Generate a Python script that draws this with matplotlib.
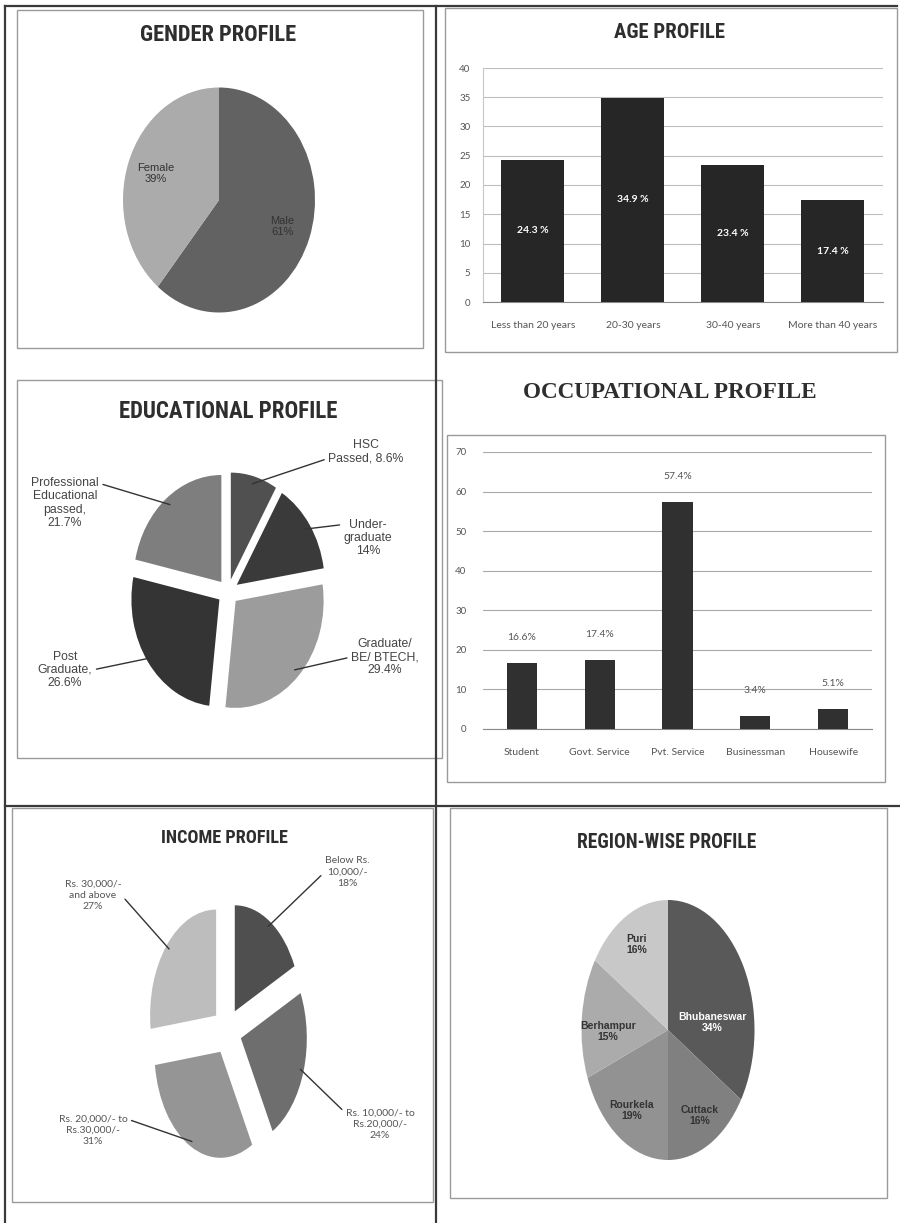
import numpy as np
import matplotlib
matplotlib.use('Agg')
import matplotlib.pyplot as plt
from matplotlib import font_manager
from matplotlib.patches import Rectangle
from matplotlib.lines import Line2D

W, H = 900, 1223

gender_names = ['Male', 'Female']
gender_values = [61, 39]

age_names = ['Less than 20 years', '20-30 years', '30-40 years', 'More than 40 years']
age_values = [24.3, 34.9, 23.4, 17.4]

edu_names = ['HSC\nPassed', 'Under-\ngraduate', 'Graduate/\nBE/ BTECH', 'Post\nGraduate',
             'Professional\nEducational\npassed']
edu_seps = [', ', '\n', ',\n', ',\n', ',\n']
edu_values = [8.6, 14, 29.4, 26.6, 21.7]

occ_names = ['Student', 'Govt. Service', 'Pvt. Service', 'Businessman', 'Housewife']
occ_values = [16.6, 17.4, 57.4, 3.4, 5.1]

income_names = ['Below Rs.\n10,000/-', 'Rs. 10,000/- to\nRs.20,000/-',
                'Rs. 20,000/- to\nRs.30,000/-', 'Rs. 30,000/-\nand above']
income_values = [18, 24, 31, 27]

region_names = ['Bhubaneswar', 'Cuttack', 'Rourkela', 'Berhampur', 'Puri']
region_values = [34, 16, 19, 15, 16]

# look for a condensed bold face for the Excel-style titles
cond = {}
for f in font_manager.fontManager.ttflist:
    bold = f.weight in (600, 700, 800, 'bold', 'semibold', 'demibold')
    if 'condensed' in str(f.stretch) and bold:
        cond.setdefault(f.name, str(f.stretch))
TITLE_FAMILY, TITLE_STRETCH = 'Liberation Sans', 'normal'
for nm in ['Liberation Sans Narrow', 'Roboto Condensed', 'Open Sans Condensed', 'DejaVu Sans',
           'Roboto', 'Open Sans', 'Noto Sans']:
    if nm in cond:
        TITLE_FAMILY, TITLE_STRETCH = nm, cond[nm]
        break

CAL = 'Lato'
ARIAL = 'Liberation Sans'
SERIF = 'Liberation Serif'

fig = plt.figure(figsize=(W / 100, H / 100), dpi=100)
renderer = fig.canvas.get_renderer()


def rect(x0, y0, x1, y1):
    return [x0 / W, 1 - y1 / H, (x1 - x0) / W, (y1 - y0) / H]


# overlay in pixel coordinates for frames and titles
over = fig.add_axes([0, 0, 1, 1])
over.set_xlim(0, W)
over.set_ylim(H, 0)
over.axis('off')
over.set_zorder(-1)

for x0, y0, x1, y1 in [(5, 6, 897, 6), (5, 6, 5, 1223), (436, 6, 436, 1223), (5, 806, 900, 806)]:
    over.add_line(Line2D([x0, x1], [y0, y1], color='#3a3a3a', lw=1.6))
for x0, y0, x1, y1 in [(17, 10, 423, 348), (445, 8, 897, 352), (17, 380, 442, 758),
                       (447, 435, 885, 782), (12, 808, 433, 1202), (450, 808, 887, 1198)]:
    over.add_patch(Rectangle((x0, y0), x1 - x0, y1 - y0, fill=False, ec='#9a9a9a', lw=1))


def title(x, y, s, width, family=None, stretch=None):
    t = over.text(x, y, s, ha='center', va='center', fontweight='bold', fontsize=14,
                  family=family or TITLE_FAMILY, fontstretch=stretch or TITLE_STRETCH,
                  color='#2e2e2e')
    w = t.get_window_extent(renderer).width
    t.set_fontsize(14 * width / w)
    return t


title(218, 35, 'GENDER PROFILE', 157)
title(670, 33, 'AGE PROFILE', 111)
title(228, 412, 'EDUCATIONAL PROFILE', 220)
title(224, 838, 'INCOME PROFILE', 128)
title(667, 842, 'REGION-WISE PROFILE', 180)
title(670, 393, 'OCCUPATIONAL PROFILE', 295, family=SERIF, stretch='normal')


def draw_pie(cx, cy, rx, ry, values, colors, explode=None, lim=1.0):
    ax = fig.add_axes(rect(cx - rx * lim, cy - ry * lim, cx + rx * lim, cy + ry * lim))
    wedges, _ = ax.pie(values, colors=colors, explode=explode, startangle=90,
                       counterclock=False, wedgeprops=dict(linewidth=0))
    ax.set_aspect('auto')
    ax.set_xlim(-lim, lim)
    ax.set_ylim(-lim, lim)
    ax.axis('off')
    return ax, wedges


def point_on(w, r):
    t = np.deg2rad((w.theta1 + w.theta2) / 2)
    return w.center[0] + r * np.cos(t), w.center[1] + r * np.sin(t)


# gender
ax, wedges = draw_pie(219, 200, 96, 112.5, gender_values, ['#626262', '#ababab'])
for w, n, v in zip(wedges, gender_names, gender_values):
    x, y = point_on(w, 0.7)
    ax.text(x, y, f'{n}\n{v}%', ha='center', va='center', fontsize=8, family=ARIAL,
            color='#333333', linespacing=1.1)

# age
ax = fig.add_axes(rect(483, 68, 883, 302))
bars = ax.bar(range(len(age_values)), age_values, width=0.63, color='#262626', zorder=3)
ax.bar_label(bars, labels=[f'{v} %' for v in age_values], label_type='center', color='white',
             fontsize=7.5, fontweight='bold', family=CAL)
ax.set_xlim(-0.5, len(age_values) - 0.5)
ax.set_ylim(0, 40)
ax.set_yticks(range(0, 41, 5))
ax.set_xticks(range(len(age_names)))
ax.set_xticklabels(age_names)
ax.yaxis.grid(True, color='#bdbdbd', lw=0.8)
ax.set_axisbelow(True)
for s in ['top', 'right']:
    ax.spines[s].set_visible(False)
ax.spines['left'].set_color('#c8c8c8')
ax.spines['bottom'].set_color('#8a8a8a')
ax.tick_params(axis='y', length=0, pad=9, labelsize=7, labelcolor='#555555')
ax.tick_params(axis='x', length=0, pad=14, labelsize=7.5, labelcolor='#555555')
for t in ax.get_xticklabels() + ax.get_yticklabels():
    t.set_family(CAL)

# education
ax, wedges = draw_pie(228, 592, 88, 107, edu_values,
                      ['#505050', '#3a3a3a', '#9c9c9c', '#343434', '#7e7e7e'],
                      explode=[0.12] * 5, lim=1.35)
edu_text_pos = [(366, 452), (368, 538), (385, 657), (65, 670), (65, 503)]
edu_relpos = [(0, 0.25), (0, 0.85), (0, 0.5), (1, 0.5), (1, 0.88)]
for w, n, s, v, p, rp in zip(wedges, edu_names, edu_seps, edu_values, edu_text_pos, edu_relpos):
    ax.annotate(f'{n}{s}{v:g}%', xy=point_on(w, 0.93), xytext=p, textcoords=over.transData,
                ha='center', va='center', fontsize=8.8, family=ARIAL, color='#444444',
                linespacing=1.15,
                arrowprops=dict(arrowstyle='-', color='#333333', lw=1, relpos=rp,
                                shrinkA=1, shrinkB=0))

# occupation
ax = fig.add_axes(rect(483, 452, 872, 729))
bars = ax.bar(range(len(occ_values)), occ_values, width=0.39, color='#303030', zorder=3)
ax.bar_label(bars, labels=[f'{v}%' for v in occ_values], padding=15, color='#555555',
             fontsize=7.5, family=CAL)
ax.set_xlim(-0.5, len(occ_values) - 0.5)
ax.set_ylim(0, 70)
ax.set_yticks(range(0, 71, 10))
ax.set_xticks(range(len(occ_names)))
ax.set_xticklabels(occ_names)
ax.yaxis.grid(True, color='#a8a8a8', lw=0.8)
ax.set_axisbelow(True)
for s in ['top', 'right', 'left']:
    ax.spines[s].set_visible(False)
ax.spines['bottom'].set_color('#8a8a8a')
ax.tick_params(axis='y', length=0, pad=12, labelsize=7, labelcolor='#555555')
ax.tick_params(axis='x', length=0, pad=14, labelsize=7.5, labelcolor='#555555')
for t in ax.get_xticklabels() + ax.get_yticklabels():
    t.set_family(CAL)

# income
ax, wedges = draw_pie(227, 1031, 66, 106, income_values,
                      ['#4f4f4f', '#6e6e6e', '#959595', '#bdbdbd'],
                      explode=[0.22] * 4, lim=1.45)
inc_text_pos = [(347, 872), (380, 1124), (93, 1130), (93, 895)]
inc_relpos = [(0, 0.5), (0, 0.85), (1, 0.85), (1, 0.5)]
for w, n, v, p, rp in zip(wedges, income_names, income_values, inc_text_pos, inc_relpos):
    ax.annotate(f'{n}\n{v}%', xy=point_on(w, 0.95), xytext=p, textcoords=over.transData,
                ha='center', va='center', fontsize=7.5, family=CAL, color='#555555',
                linespacing=1.3,
                arrowprops=dict(arrowstyle='-', color='#333333', lw=1, relpos=rp,
                                shrinkA=1, shrinkB=0))

# region
ax, wedges = draw_pie(668, 1030, 86.5, 130, region_values,
                      ['#595959', '#808080', '#929292', '#ababab', '#c8c8c8'])
region_label_r = [0.58, 0.75, 0.75, 0.7, 0.75]
region_label_dy = [-0.22, 0, 0, -0.08, 0]
for i, (w, n, v) in enumerate(zip(wedges, region_names, region_values)):
    x, y = point_on(w, region_label_r[i])
    ax.text(x, y + region_label_dy[i], f'{n}\n{v}%', ha='center', va='center', fontsize=7.5,
            family=ARIAL, fontweight='bold', color='white' if i == 0 else '#333333',
            linespacing=1.1)

fig.savefig('out.png', dpi=100)
